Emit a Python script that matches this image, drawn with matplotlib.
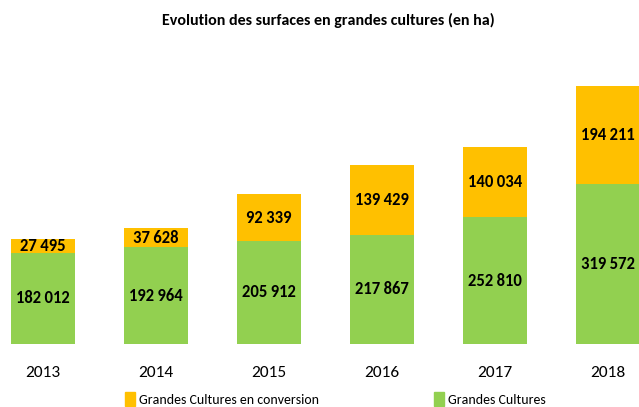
import matplotlib
matplotlib.use("Agg")
import matplotlib.pyplot as plt
from matplotlib.patches import Patch

years = ["2013", "2014", "2015", "2016", "2017", "2018"]
gc = [182012, 192964, 205912, 217867, 252810, 319572]
conv = [27495, 37628, 92339, 139429, 140034, 194211]

GREEN = "#92D050"
ORANGE = "#FFC000"
plt.rcParams['font.family'] = ['Carlito', 'DejaVu Sans']

fig = plt.figure(figsize=(6.39, 4.07), dpi=100)
# baseline at y=344px, top of axes at y=43px
ax = fig.add_axes([0, (407 - 344) / 407, 1, (344 - 43) / 407])
x = list(range(len(years)))
w = 0.566
ax.bar(x, gc, width=w, color=GREEN, label="Grandes Cultures")
ax.bar(x, conv, width=w, bottom=gc, color=ORANGE, label="Grandes Cultures en conversion")

def fmt(v):
    return f"{v:,}".replace(",", "\u2009")

for i in x:
    ax.text(i, gc[i] / 2, fmt(gc[i]), ha="center", va="center",
            fontsize=12, fontweight="bold", color="black")
    ax.text(i, gc[i] + conv[i] / 2, fmt(conv[i]), ha="center", va="center",
            fontsize=12, fontweight="bold", color="black")
    fig.text((i + 0.38) / 5.654, 1 - 373 / 407, years[i], ha="center", va="center", fontsize=12.5)

ax.set_xlim(-0.38, 5.274)
ax.set_ylim(0, 600000)
ax.axis("off")

fig.text(328 / 639, 1 - 20 / 407, "Evolution des surfaces en grandes cultures (en ha)",
         ha="center", va="center", fontsize=11.5, fontweight="bold")

fig.legend(handles=[Patch(color=ORANGE, label="Grandes Cultures en conversion")],
           loc="center left", bbox_to_anchor=(125 / 639, 1 - 399 / 407), frameon=False,
           fontsize=10, handlelength=0.7, handleheight=1.1, handletextpad=0.3, borderpad=0, borderaxespad=0)
fig.legend(handles=[Patch(color=GREEN, label="Grandes Cultures")],
           loc="center left", bbox_to_anchor=(434 / 639, 1 - 399 / 407), frameon=False,
           fontsize=10, handlelength=0.7, handleheight=1.1, handletextpad=0.3, borderpad=0, borderaxespad=0)

fig.savefig("out.png", dpi=100)
